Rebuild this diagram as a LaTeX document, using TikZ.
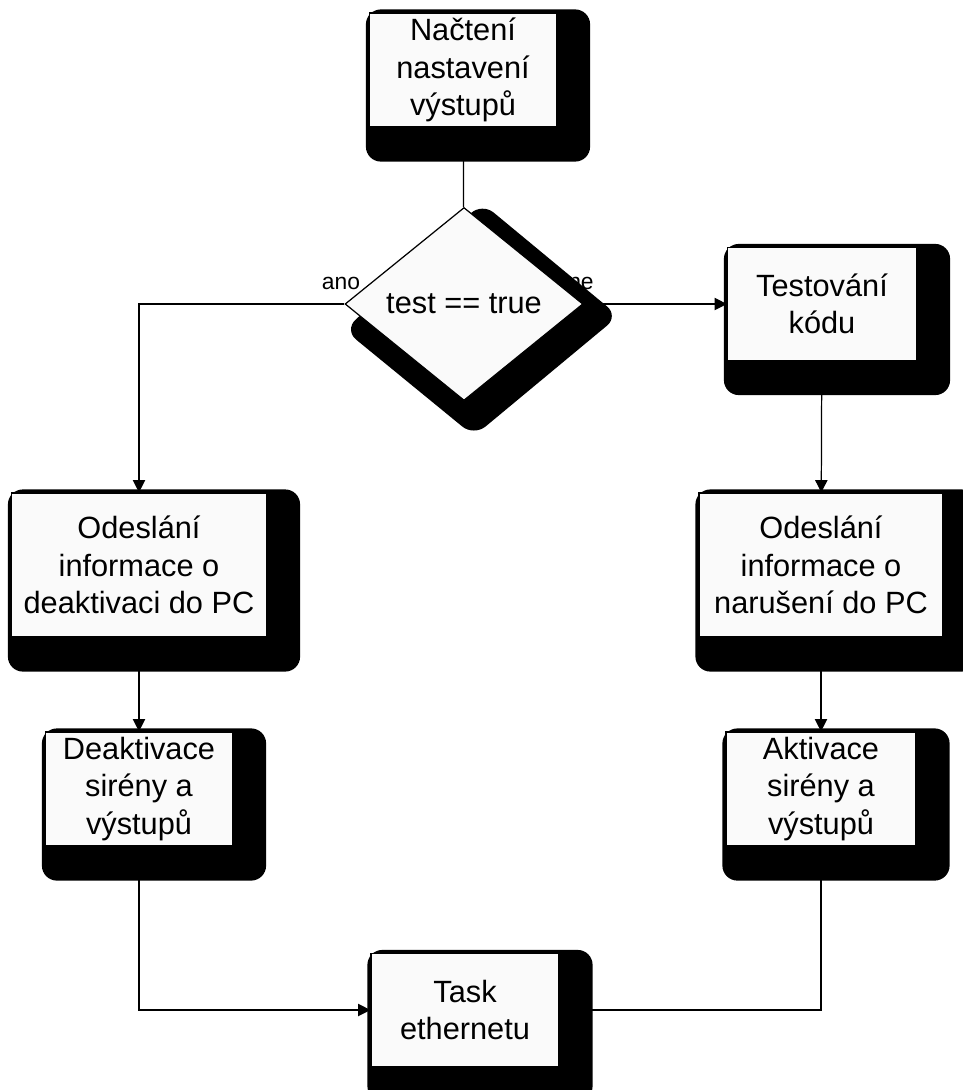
\documentclass[tikz,border=0pt]{standalone}
\usepackage{fontspec}
\setmainfont{Liberation Sans}
\usetikzlibrary{arrows.meta}
\usetikzlibrary{shapes.geometric,backgrounds}

\tikzset{
  krok/.style={draw,line width=0.7pt,fill=gray!4,align=center,inner sep=0pt,
    font=\fontsize{17.5}{21.3}\selectfont},
  rozhod/.style={krok,diamond},
  stin/.style={fill=black,rounded corners=0.3cm},
  popis/.style={font=\fontsize{13}{15}\selectfont,inner sep=0pt},
  sipka/.style={-{Triangle[length=7pt,width=7pt]}},
  rohx/.style={to path={-| (\tikztotarget)}},
  rohy/.style={to path={|- (\tikztotarget)}}
}

\begin{document}
\begin{tikzpicture}[x=0.02cm,y=-0.02cm,line width=0.7pt]
\useasboundingbox (0,0) rectangle (963,1090);

\node[krok,minimum width=3.74cm,minimum height=2.28cm] (nacteni) at (463,70) {Načtení\\nastavení\\výstupů};
\node[rozhod,minimum width=4.76cm,minimum height=3.86cm] (test) at (464,304) {test == true};
\node[krok,minimum width=3.78cm,minimum height=2.26cm] (testovani) at (822,304) {Testování\\kódu};
\node[krok,minimum width=5.1cm,minimum height=2.88cm] (odeslD) at (139,565) {Odeslání\\informace o\\deaktivaci do PC};
\node[krok,minimum width=4.88cm,minimum height=2.88cm] (odeslN) at (821,565) {Odeslání\\informace o\\narušení do PC};
\node[krok,minimum width=3.74cm,minimum height=2.28cm] (deakt) at (139,789) {Deaktivace\\sirény a\\výstupů};
\node[krok,minimum width=3.8cm,minimum height=2.28cm] (akt) at (821,789) {Aktivace\\sirény a\\výstupů};
\node[krok,minimum width=3.76cm,minimum height=2.26cm] (task) at (465,1010) {Task\\ethernetu};

% stiny
\begin{scope}[on background layer]
\node[popis] (ano) at (341,283) {ano};
\node[popis] (ne) at (581,283) {ne};
\foreach \n in {nacteni,testovani,odeslD,odeslN,deakt,akt,task}
  \fill[stin] ([shift={(-3,-3)}]\n.north west) rectangle ([shift={(33,34)}]\n.south east);
\fill[stin] ([shift={(18,-4)}]test.north) -- ([shift={(35,12)}]test.east)
  -- ([shift={(10,35)}]test.south) -- ([shift={(0,26)}]test.west) -- cycle;
\end{scope}

\path
(nacteni) edge (test)
(test.west) edge[sipka,rohx] (odeslD.north)
(test.east) edge[sipka] (testovani.west)
(testovani) edge[sipka] (odeslN)
(odeslD) edge[sipka] (deakt)
(odeslN) edge[sipka] (akt)
(deakt.south) edge[sipka,rohy] (task.west)
(akt.south) edge[rohy] (task.east);
\end{tikzpicture}
\end{document}
